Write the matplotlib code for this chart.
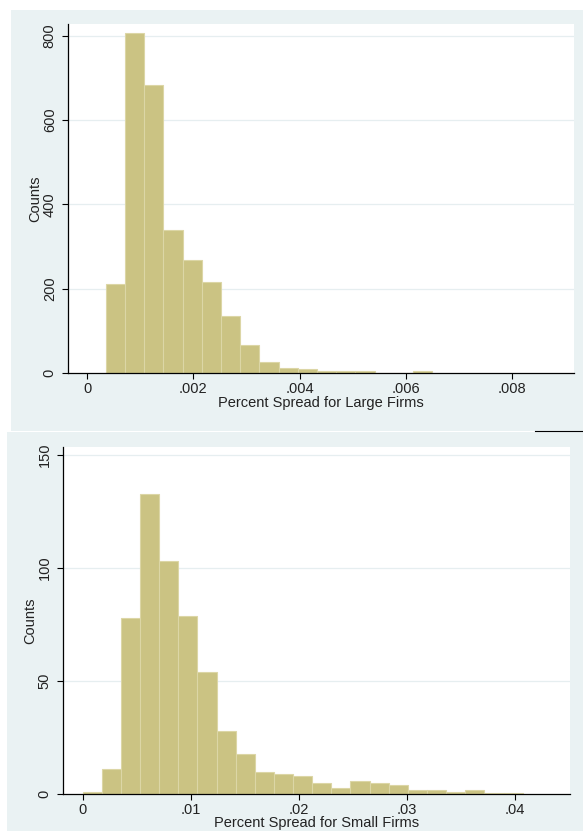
import matplotlib
matplotlib.use("Agg")
import matplotlib.pyplot as plt
import numpy as np
from matplotlib.patches import Rectangle
from matplotlib.lines import Line2D

plt.rcParams['font.family'] = ['Liberation Sans', 'DejaVu Sans']

# large firms histogram (17 bins)
large_start = 0.000347
large_width = 0.000362
large_counts = [210, 806, 684, 339, 268, 215, 134, 66, 26, 11, 8, 3, 3, 3, 0, 0, 3]
large_ticks = [0, 0.002, 0.004, 0.006, 0.008]
large_ticklabels = ['0', '.002', '.004', '.006', '.008']
large_yticks = [0, 200, 400, 600, 800]

# small firms histogram (23 bins)
small_start = 0.0
small_width = 0.00177
small_counts = [1, 11, 78, 133, 103, 79, 54, 28, 18, 10, 9, 8, 5, 3, 6, 5, 4, 2, 2, 1, 2, 0.5, 0.5]
small_ticks = [0, 0.01, 0.02, 0.03, 0.04]
small_ticklabels = ['0', '.01', '.02', '.03', '.04']
small_yticks = [0, 50, 100, 150]

W, H = 583, 831
bg = '#eaf2f3'
bar_fc = '#cbc383'
bar_ec = '#dcd6a6'

fig = plt.figure(figsize=(W / 100, H / 100), dpi=100, facecolor='white')

def px_rect(x0, y0, x1, y1, **kw):
    return Rectangle((x0 / W, 1 - y1 / H), (x1 - x0) / W, (y1 - y0) / H,
                     transform=fig.transFigure, **kw)

fig.patches.append(px_rect(11, 10, 583, 430.5, facecolor=bg, edgecolor='none', zorder=-5))
fig.patches.append(px_rect(7, 432, 583, 831, facecolor=bg, edgecolor='none', zorder=-5))
fig.lines.append(Line2D([535 / W, 1], [1 - 431 / H, 1 - 431 / H], transform=fig.transFigure,
                        color='black', lw=0.8, zorder=-4))


def make_axes(box, start, width, counts, xticks, xticklabels, yticks, xlim, ylim, xlabel,
              xlab_pos, ylab_pos):
    x0, y0, x1, y1 = box
    ax = fig.add_axes([x0 / W, 1 - y1 / H, (x1 - x0) / W, (y1 - y0) / H])
    ax.set_facecolor('white')
    lefts = start + width * np.arange(len(counts))
    ax.bar(lefts, counts, width=width, align='edge', color=bar_fc, edgecolor=bar_ec,
           linewidth=0.8, zorder=2)
    ax.set_xlim(*xlim)
    ax.set_ylim(*ylim)
    ax.set_xticks(xticks)
    ax.set_xticklabels(xticklabels)
    ax.set_yticks(yticks)
    ax.set_yticklabels([str(v) for v in yticks], rotation=90, va='center')
    for v in yticks[1:]:
        ax.axhline(v, color='#e6eef0', lw=0.9, zorder=1)
    for s in ['top', 'right']:
        ax.spines[s].set_visible(False)
    for s in ['left', 'bottom']:
        ax.spines[s].set_color('black')
        ax.spines[s].set_linewidth(0.9)
    ax.tick_params(axis='both', length=4.3, width=0.8, color='black', labelsize=10.5,
                   labelcolor='#222222')
    ax.tick_params(axis='x', pad=2.2)
    ax.tick_params(axis='y', pad=4.0)
    ax.set_xlabel(xlabel, fontsize=10.5, color='#222222')
    ax.xaxis.set_label_coords(*xlab_pos)
    ax.xaxis.label.set_va('center')
    ax.set_ylabel('Counts', fontsize=10.5, color='#222222')
    ax.yaxis.set_label_coords(*ylab_pos)
    ax.yaxis.label.set_va('center')
    return ax


make_axes((68.3, 24, 574, 372.7), large_start, large_width, large_counts,
          large_ticks, large_ticklabels, large_yticks,
          (-0.000358, 0.009174), (0, 828.5), 'Percent Spread for Large Firms',
          (0.5, -0.086), (-0.066, 0.5))

make_axes((63.3, 446.7, 570, 794.3), small_start, small_width, small_counts,
          small_ticks, small_ticklabels, small_yticks,
          (-0.00179, 0.04509), (0, 153.7), 'Percent Spread for Small Firms',
          (0.5, -0.0834), (-0.0657, 0.5))

fig.savefig('out.png', dpi=100, facecolor='white')
